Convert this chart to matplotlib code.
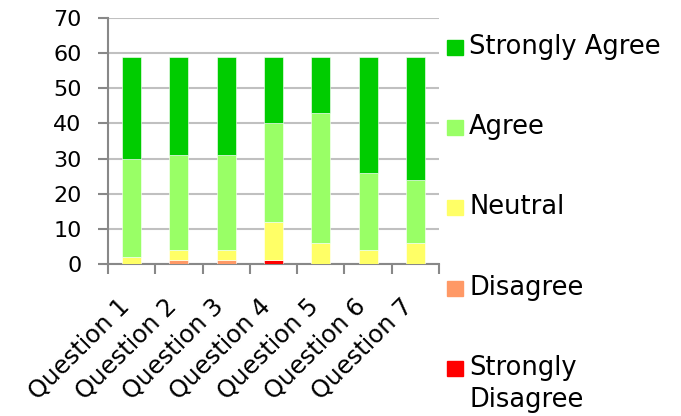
import numpy as np
import matplotlib.pyplot as plt
import matplotlib.transforms as mtransforms
from matplotlib.patches import Rectangle

questions = ["Question 1", "Question 2", "Question 3", "Question 4",
             "Question 5", "Question 6", "Question 7"]
strongly_disagree = [0, 0, 0, 1, 0, 0, 0]
disagree = [0, 1, 1, 0, 0, 0, 0]
neutral = [2, 3, 3, 11, 6, 4, 6]
agree = [28, 27, 27, 28, 37, 22, 18]
strongly_agree = [29, 28, 28, 19, 16, 33, 35]

labels = ["Strongly\nDisagree", "Disagree", "Neutral", "Agree", "Strongly Agree"]
colors = ["#FF0000", "#FF9966", "#FFFF66", "#99FF66", "#00CC00"]
series = [strongly_disagree, disagree, neutral, agree, strongly_agree]

plt.rcParams.update({'font.family': 'DejaVu Sans', 'font.size': 16})

fig = plt.figure(figsize=(6.81, 4.16), dpi=100)
ax = fig.add_axes([108/681, 1 - 264/416, 331/681, 246/416])

x = np.arange(len(questions))
bottom = np.zeros(len(questions))
for vals, col in zip(series, colors):
    ax.bar(x, vals, width=0.4, bottom=bottom, color=col,
           edgecolor='white', linewidth=0.4, zorder=3)
    bottom += np.array(vals)

# axes styling
ax.set_xlim(-0.5, 6.5)
ax.set_ylim(0, 70)
ax.set_yticks(np.arange(0, 71, 10))
ax.yaxis.grid(True, color='#c0c0c0', linewidth=1.5, zorder=0)
for s in ['top', 'right']:
    ax.spines[s].set_visible(False)
for s in ['left', 'bottom']:
    ax.spines[s].set_color('#888888')
    ax.spines[s].set_linewidth(1.5)
ax.tick_params(axis='y', length=7, width=1.5, color='#888888', pad=12, labelsize=16)

ax.set_xticks(x)
ax.set_xticklabels(questions, rotation=45, ha='right', va='center',
                   rotation_mode='anchor')
ax.tick_params(axis='x', which='major', length=0, pad=28, labelsize=17.5)
ax.set_xticks(np.arange(-0.5, 7, 1), minor=True)
ax.tick_params(axis='x', which='minor', length=7, width=1.5, color='#888888')
shift = mtransforms.ScaledTranslation(-6/100, 0, fig.dpi_scale_trans)
for lbl in ax.get_xticklabels():
    lbl.set_transform(lbl.get_transform() + shift)

# legend on the right, top entry first
legend_y = [47, 127, 207, 288, 368]
entries = list(zip(labels[::-1], colors[::-1]))
for (lab, col), yy in zip(entries, legend_y):
    fig.patches.append(Rectangle((447/681, 1 - (yy + 8)/416), 16/681, 15/416,
                                 transform=fig.transFigure, color=col))
    for k, line in enumerate(lab.split('\n')):
        fig.text(469/681, 1 - (yy + 32 * k)/416, line, va='center',
                 ha='left', fontsize=18.5)

fig.savefig("out.png", dpi=100)
